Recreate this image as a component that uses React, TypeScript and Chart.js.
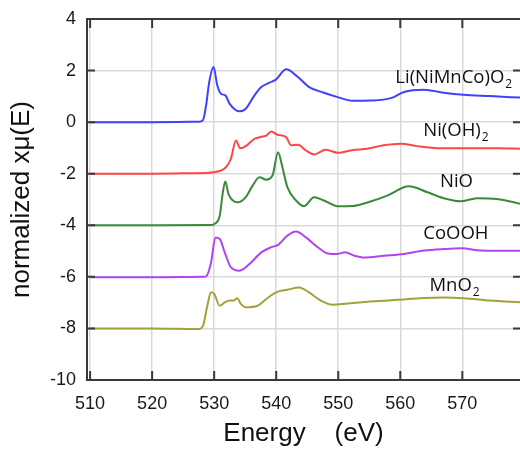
import { useEffect, useRef } from 'react';
import { Chart, registerables } from 'chart.js';

Chart.register(...registerables);

// Energy (eV) and normalized xμ(E) values per sample
const liE = [510, 520, 527.5, 528.2, 528.7, 529.2, 529.9, 530.5, 531.1, 531.8, 532.5, 534.1, 535.1, 536.5, 537.6, 538.9, 540.0, 541.6, 543.5, 545.3, 547.7, 549.9, 552.3, 555.2, 558.5, 560.6, 563.8, 567.0, 570.2, 574.5, 579.4];
const liV = [0, 0, 0.02, 0.08, 0.65, 1.55, 2.14, 1.43, 1.10, 1.04, 0.71, 0.42, 0.52, 1.04, 1.36, 1.53, 1.66, 2.05, 1.75, 1.36, 1.14, 0.97, 0.83, 0.84, 0.93, 1.17, 1.26, 1.14, 1.06, 1.01, 0.95];

const niohE = [510, 520, 526.3, 530.0, 531.9, 532.7, 533.5, 534.2, 535.1, 536.5, 537.8, 538.4, 539.2, 540.2, 541.6, 542.4, 543.5, 544.8, 546.1, 548.0, 549.9, 552.4, 554.7, 557.3, 560.1, 562.7, 566.0, 570.8, 575.8, 579.4];
const niohV = [-2, -2, -1.98, -1.94, -1.75, -1.42, -0.71, -1.01, -0.93, -0.65, -0.56, -0.52, -0.36, -0.49, -0.58, -0.90, -0.88, -1.10, -1.25, -1.07, -1.19, -1.08, -1.03, -0.90, -0.84, -0.93, -1.01, -1.01, -1.01, -1.03];

const nioE = [510, 520, 529.5, 530.05, 530.9, 531.4, 531.8, 532.3, 533.8, 535.1, 536.2, 537.3, 538.4, 539.4, 540.3, 541.0, 541.8, 543.2, 544.5, 546.1, 547.7, 549.9, 552.4, 555.2, 557.9, 561.4, 564.4, 567.0, 569.7, 572.4, 575.6, 579.4];
const nioV = [-4, -4, -3.99, -3.95, -3.62, -2.72, -2.30, -2.78, -3.11, -2.91, -2.46, -2.14, -2.23, -2.07, -1.17, -1.75, -2.52, -3.04, -3.26, -2.91, -3.04, -3.26, -3.25, -3.08, -2.85, -2.49, -2.72, -2.95, -3.07, -2.95, -2.98, -3.17];

const coE = [510, 520, 528.0, 528.7, 529.5, 530.2, 530.9, 531.7, 532.7, 534.1, 535.7, 537.6, 539.2, 540.3, 541.8, 543.2, 544.8, 546.7, 548.3, 549.9, 551.1, 552.6, 554.2, 557.4, 560.6, 563.8, 567.0, 570.0, 572.9, 576.1, 579.4];
const coV = [-6.02, -6.02, -6.0, -5.98, -5.44, -4.47, -4.53, -5.05, -5.63, -5.76, -5.50, -5.05, -4.85, -4.76, -4.40, -4.24, -4.47, -4.85, -5.09, -5.11, -5.05, -5.18, -5.25, -5.18, -5.11, -4.98, -4.92, -4.89, -4.98, -4.99, -4.99];

const mnE = [510, 520, 527.5, 528.2, 528.9, 529.5, 530.0, 530.9, 531.7, 532.5, 533.2, 533.7, 534.3, 535.1, 537.0, 538.4, 540.0, 541.8, 543.7, 545.3, 547.2, 549.1, 551.5, 555.2, 559.5, 563.8, 567.0, 570.2, 574.5, 579.4];
const mnV = [-8.0, -8.0, -8.02, -7.90, -7.12, -6.60, -6.66, -7.12, -6.99, -6.92, -6.92, -6.83, -7.05, -7.18, -7.12, -6.86, -6.60, -6.50, -6.41, -6.60, -6.92, -7.08, -7.03, -6.96, -6.89, -6.82, -6.80, -6.83, -6.92, -6.99];

const seriesE = [liE, niohE, nioE, coE, mnE];
const seriesV = [liV, niohV, nioV, coV, mnV];
const seriesNames = ['Li(NiMnCo)O2', 'Ni(OH)2', 'NiO', 'CoOOH', 'MnO2'];
const seriesColors = ['#4040ff', '#ff4646', '#3a8a3a', '#b044f0', '#a2a23a'];

// Series labels: main text, subscript, anchor (energy, value)
const labelMain = ['Li(NiMnCo)O', 'Ni(OH)', 'NiO', 'CoOOH', 'MnO'];
const labelSub = ['2', '2', '', '', '2'];
const labelE = [559.2, 563.7, 566.4, 563.7, 564.7];
const labelV = [1.53, -0.52, -2.50, -4.53, -6.54];

const xTicks = [510, 520, 530, 540, 550, 560, 570];
const yTicks = [4, 2, 0, -2, -4, -6, -8, -10];

const framePlugin = {
  id: 'frame',
  afterDraw(chart: any) {
    const { ctx, chartArea: a, scales } = chart;
    const xs = scales.x;
    const ys = scales.y;
    ctx.save();
    ctx.strokeStyle = '#3a3a3a';
    ctx.lineWidth = 2;
    ctx.beginPath();
    xTicks.forEach((t) => {
      const px = xs.getPixelForValue(t);
      ctx.moveTo(px, a.top);
      ctx.lineTo(px, a.top + 9);
      ctx.moveTo(px, a.bottom);
      ctx.lineTo(px, a.bottom - 9);
    });
    yTicks.forEach((t) => {
      const py = ys.getPixelForValue(t);
      ctx.moveTo(a.left, py);
      ctx.lineTo(a.left + 8, py);
      ctx.moveTo(a.right + 2, py);
      ctx.lineTo(a.right - 7, py);
    });
    // left, top and bottom frame lines (right edge lies just outside the picture)
    ctx.moveTo(a.right + 2, a.top);
    ctx.lineTo(a.left, a.top);
    ctx.lineTo(a.left, a.bottom);
    ctx.lineTo(a.right + 2, a.bottom);
    ctx.stroke();

    ctx.fillStyle = '#111';
    ctx.textBaseline = 'alphabetic';
    ctx.textAlign = 'left';
    labelMain.forEach((txt, i) => {
      const px = xs.getPixelForValue(labelE[i]);
      const py = ys.getPixelForValue(labelV[i]);
      ctx.font = '18.5px "Open Sans", sans-serif';
      ctx.fillText(txt, px, py);
      if (labelSub[i]) {
        const w = ctx.measureText(txt).width;
        ctx.font = '12px "Open Sans", sans-serif';
        ctx.fillText(labelSub[i], px + w + 1, py + 5);
      }
    });
    ctx.restore();
  },
};

export default function App() {
  const ref = useRef<HTMLCanvasElement>(null);
  useEffect(() => {
    const canvas = ref.current;
    if (!canvas) return;
    const chart = new Chart(canvas, {
      type: 'line',
      data: {
        datasets: seriesNames.map((name, i) => ({
          label: name,
          data: seriesE[i].map((e, j) => ({ x: e, y: seriesV[i][j] })),
          borderColor: seriesColors[i],
          backgroundColor: seriesColors[i],
          borderWidth: 2,
          pointRadius: 0,
          cubicInterpolationMode: 'monotone' as const,
          fill: false,
        })),
      },
      options: {
        animation: false,
        responsive: false,
        layout: { padding: { top: 19, right: 0, left: 0, bottom: 0 } },
        plugins: { legend: { display: false }, tooltip: { enabled: false } },
        scales: {
          x: {
            type: 'linear',
            min: 509.5,
            max: 579.3,
            afterBuildTicks: (s: any) => {
              s.ticks = xTicks.map((v) => ({ value: v }));
            },
            afterFit: (s: any) => {
              s.height = 69;
              s.paddingLeft = 0;
              s.paddingRight = 0;
            },
            grid: { color: '#d9d9d9', lineWidth: 1.5, drawTicks: false },
            border: { display: false },
            ticks: {
              padding: 13,
              color: '#1a1a1a',
              font: { family: '"Liberation Sans", Arial, sans-serif', size: 18 },
              maxRotation: 0,
            },
            title: {
              display: true,
              text: 'Energy    (eV)',
              color: '#111',
              font: { family: '"Liberation Sans", Arial, sans-serif', size: 26 },
              padding: { top: 0, bottom: 0 },
            },
          },
          y: {
            type: 'linear',
            min: -10,
            max: 4,
            afterBuildTicks: (s: any) => {
              s.ticks = yTicks.map((v) => ({ value: v }));
            },
            afterFit: (s: any) => {
              s.width = 87;
              s.paddingTop = 0;
              s.paddingBottom = 0;
            },
            grid: { color: '#d9d9d9', lineWidth: 1.5, drawTicks: false },
            border: { display: false },
            ticks: {
              padding: 11,
              color: '#1a1a1a',
              font: { family: '"Liberation Sans", Arial, sans-serif', size: 18 },
            },
            title: {
              display: true,
              text: 'normalized xμ(E)',
              color: '#111',
              font: { family: '"Liberation Sans", Arial, sans-serif', size: 26 },
              padding: { top: 6, bottom: 0 },
            },
          },
        },
      },
      plugins: [framePlugin],
    });
    return () => chart.destroy();
  }, []);
  return (
    <div style={{ position: 'fixed', left: 0, top: 0, width: 520, height: 449, background: '#fff' }}>
      <canvas ref={ref} width={520} height={449} style={{ display: 'block' }} />
    </div>
  );
}
